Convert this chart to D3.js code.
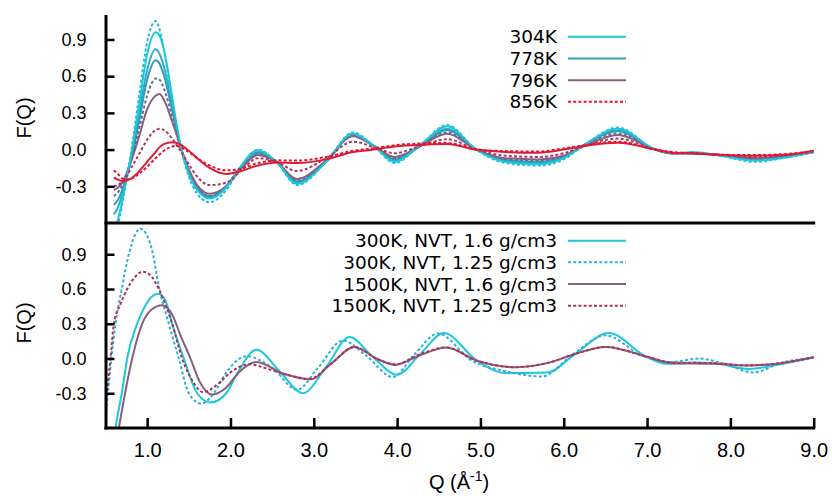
<!DOCTYPE html>
<html>
<head>
<meta charset="utf-8">
<script src="https://cdn.jsdelivr.net/npm/d3@7"></script>
<style>
  html, body { margin: 0; padding: 0; background: #fff; }
  svg { display: block; }
</style>
</head>
<body>
<svg id="chart" width="832" height="496"></svg>
<script>
// ---------------- DATA ----------------
// Top panel: shared Q grid (Å^-1)
const Q_TOP = [0.6, 0.65, 0.7, 0.75, 0.8, 0.9, 1.0, 1.1, 1.15, 1.2, 1.3, 1.35, 1.4, 1.5, 1.6, 1.75, 1.95, 2.1, 2.33, 2.55,
               2.8, 3.15, 3.47, 3.72, 3.97, 4.28, 4.6, 4.95, 5.3, 5.7, 6.0, 6.25, 6.65, 7.1, 7.3, 7.55, 7.8, 8.3, 8.7, 9.0];
const F_TOP_A = [-0.75,-0.62,-0.45,-0.25,-0.05,0.42,0.88,1.05,0.98,0.82,0.40,0.20,0.03,-0.22,-0.36,-0.43,-0.33,-0.17,0.0,-0.10,
                 -0.29,-0.10,0.14,0.03,-0.11,0.04,0.20,0.0,-0.11,-0.13,-0.08,0.04,0.18,0.0,-0.03,-0.03,-0.04,-0.10,-0.06,-0.02];
const F_304K = [-0.68,-0.57,-0.42,-0.25,-0.07,0.35,0.78,0.96,0.93,0.82,0.43,0.22,0.04,-0.20,-0.33,-0.40,-0.31,-0.16,-0.005,-0.10,
                -0.28,-0.10,0.13,0.03,-0.10,0.04,0.19,0.0,-0.10,-0.12,-0.07,0.04,0.17,0.0,-0.03,-0.02,-0.04,-0.09,-0.06,-0.02];
const F_TOP_C = [-0.53,-0.47,-0.37,-0.24,-0.10,0.27,0.65,0.82,0.78,0.68,0.36,0.19,0.03,-0.19,-0.32,-0.39,-0.30,-0.16,-0.02,-0.10,
                 -0.27,-0.10,0.13,0.03,-0.09,0.03,0.17,0.0,-0.09,-0.11,-0.06,0.04,0.16,0.0,-0.03,-0.03,-0.04,-0.085,-0.055,-0.02];
const F_778K = [-0.45,-0.41,-0.33,-0.22,-0.10,0.22,0.57,0.73,0.70,0.61,0.32,0.17,0.03,-0.18,-0.31,-0.38,-0.30,-0.16,-0.025,-0.10,
                -0.26,-0.10,0.12,0.03,-0.08,0.03,0.16,0.0,-0.085,-0.10,-0.06,0.04,0.15,0.0,-0.03,-0.03,-0.04,-0.08,-0.05,-0.02];
const F_TOP_E = [-0.38,-0.35,-0.29,-0.20,-0.10,0.16,0.44,0.58,0.57,0.50,0.27,0.15,0.03,-0.17,-0.30,-0.38,-0.30,-0.17,-0.04,-0.10,
                 -0.25,-0.09,0.12,0.03,-0.07,0.03,0.14,0.0,-0.08,-0.09,-0.05,0.04,0.13,0.0,-0.03,-0.03,-0.04,-0.075,-0.05,-0.02];
const F_796K = [-0.33,-0.31,-0.27,-0.20,-0.11,0.10,0.33,0.44,0.455,0.41,0.23,0.13,0.02,-0.16,-0.29,-0.36,-0.30,-0.18,-0.045,-0.10,
                -0.24,-0.09,0.11,0.03,-0.06,0.03,0.13,0.0,-0.07,-0.08,-0.05,0.03,0.12,0.0,-0.03,-0.03,-0.04,-0.07,-0.05,-0.02];
const F_TOP_G = [-0.30,-0.29,-0.26,-0.22,-0.16,-0.04,0.08,0.16,0.17,0.16,0.09,0.04,-0.01,-0.12,-0.22,-0.29,-0.27,-0.19,-0.07,-0.10,
                 -0.175,-0.07,0.065,0.02,-0.03,0.03,0.085,0.0,-0.05,-0.06,-0.03,0.03,0.09,0.0,-0.03,-0.03,-0.04,-0.06,-0.045,-0.015];
const F_TOP_H = [-0.23,-0.245,-0.257,-0.253,-0.24,-0.18,-0.10,-0.02,0.02,0.045,0.06,0.055,0.04,-0.01,-0.07,-0.15,-0.20,-0.18,-0.13,-0.105,
                 -0.11,-0.08,-0.02,0.0,0.025,0.04,0.045,0.0,-0.02,-0.025,0.0,0.03,0.055,0.0,-0.025,-0.03,-0.04,-0.05,-0.04,-0.01];
const F_856K = [-0.17,-0.20,-0.235,-0.245,-0.24,-0.20,-0.14,-0.07,-0.04,-0.01,0.025,0.03,0.02,-0.02,-0.07,-0.13,-0.17,-0.16,-0.11,-0.088,
                -0.09,-0.06,-0.01,0.01,0.035,0.05,0.055,0.0,-0.012,-0.016,0.01,0.035,0.065,0.0,-0.02,-0.03,-0.04,-0.045,-0.035,-0.01];

// Bottom panel: each series with its own Q points
const Q_300K_16 = [0.6,0.62,0.7,0.76,0.88,0.98,1.05,1.13,1.22,1.3,1.44,1.6,1.76,1.95,2.08,2.31,2.6,2.87,3.15,3.43,3.7,4.0,4.28,4.56,4.96,5.3,5.8,6.14,6.54,6.98,7.22,7.6,7.85,8.22,8.6,9.0];
const F_300K_16 = [-0.7,-0.6,-0.28,0.0,0.3,0.46,0.53,0.56,0.5,0.3,0.0,-0.3,-0.38,-0.3,-0.13,0.075,-0.12,-0.3,-0.07,0.185,0.02,-0.14,0.04,0.22,-0.02,-0.125,-0.12,0.04,0.22,0.02,-0.045,-0.035,-0.045,-0.09,-0.05,0.01];
const Q_300K_125 = [0.5,0.53,0.57,0.62,0.7,0.78,0.85,0.92,1.0,1.07,1.14,1.26,1.38,1.5,1.65,1.8,1.95,2.19,2.5,2.8,3.05,3.35,3.62,3.95,4.2,4.49,4.9,5.3,5.74,6.1,6.5,6.95,7.3,7.62,7.9,8.28,8.6,9.0];
const F_300K_125 = [-0.5,-0.3,0.0,0.3,0.62,0.9,1.06,1.12,1.06,0.9,0.62,0.3,0.0,-0.3,-0.39,-0.3,-0.12,0.02,-0.08,-0.27,-0.08,0.155,0.03,-0.16,0.03,0.215,-0.02,-0.11,-0.155,0.03,0.2,0.02,-0.03,0.0,-0.04,-0.12,-0.04,0.01];
const Q_1500K_16 = [0.6,0.66,0.74,0.82,0.94,1.05,1.18,1.3,1.4,1.52,1.63,1.78,1.95,2.1,2.31,2.63,2.97,3.2,3.49,3.75,3.98,4.25,4.59,4.96,5.42,5.8,6.14,6.5,6.98,7.3,7.8,8.2,8.6,9.0];
const F_1500K_16 = [-0.85,-0.6,-0.28,0.0,0.3,0.42,0.46,0.38,0.2,0.0,-0.2,-0.31,-0.25,-0.12,-0.03,-0.13,-0.18,-0.05,0.1,0.0,-0.055,0.02,0.095,-0.02,-0.075,-0.04,0.04,0.1,0.02,-0.04,-0.045,-0.06,-0.04,0.01];
const Q_1500K_125 = [0.5,0.53,0.56,0.6,0.68,0.76,0.85,0.95,1.05,1.14,1.3,1.42,1.55,1.67,1.85,2.0,2.23,2.45,2.63,2.95,3.2,3.49,3.75,3.98,4.25,4.59,4.96,5.42,5.8,6.14,6.5,6.98,7.3,7.8,8.2,8.6,9.0];
const F_1500K_125 = [-0.42,-0.2,0.0,0.3,0.47,0.6,0.7,0.75,0.71,0.6,0.3,0.0,-0.2,-0.29,-0.22,-0.12,-0.05,-0.09,-0.13,-0.175,-0.05,0.1,0.0,-0.05,0.03,0.095,-0.02,-0.075,-0.04,0.04,0.1,0.02,-0.035,-0.04,-0.06,-0.04,0.01];

const X_TICKS = [1, 2, 3, 4, 5, 6, 7, 8, 9];
const Y_TICKS = [-0.3, 0.0, 0.3, 0.6, 0.9];

const TOP_SERIES = [
  { name: "A", q: Q_TOP, f: F_TOP_A, color: "#22bcd6", dash: true },
  { name: "C", q: Q_TOP, f: F_TOP_C, color: "#2aaecb", dash: false },
  { name: "778K", q: Q_TOP, f: F_778K, color: "#3a9ab6", dash: false },
  { name: "E", q: Q_TOP, f: F_TOP_E, color: "#5a7595", dash: true },
  { name: "796K", q: Q_TOP, f: F_796K, color: "#8a6080", dash: false },
  { name: "304K", q: Q_TOP, f: F_304K, color: "#16cade", dash: false },
  { name: "G", q: Q_TOP, f: F_TOP_G, color: "#a63c64", dash: true },
  { name: "H", q: Q_TOP, f: F_TOP_H, color: "#d81e3c", dash: false },
  { name: "856K", q: Q_TOP, f: F_856K, color: "#f0102a", dash: true }
];
const TOP_LEGEND = [
  { label: "304K", color: "#16cade", dash: false },
  { label: "778K", color: "#3a9ab6", dash: false },
  { label: "796K", color: "#8a6080", dash: false },
  { label: "856K", color: "#f0102a", dash: true }
];
const BOTTOM_SERIES = [
  { label: "300K, NVT, 1.6 g/cm3", q: Q_300K_16, f: F_300K_16, color: "#1cc8dc", dash: false },
  { label: "300K, NVT, 1.25 g/cm3", q: Q_300K_125, f: F_300K_125, color: "#2fb2cf", dash: true },
  { label: "1500K, NVT, 1.6 g/cm3", q: Q_1500K_16, f: F_1500K_16, color: "#86607e", dash: false },
  { label: "1500K, NVT, 1.25 g/cm3", q: Q_1500K_125, f: F_1500K_125, color: "#b0305a", dash: true }
];

// ---------------- LAYOUT ----------------
const svg = d3.select("#chart");
const L = 105.5, R = 813.7;
const TOP_Y0 = 15, MID_Y = 223, BOT_Y1 = 428;

const x = d3.scaleLinear().domain([0.5, 9]).range([L, R]);
const yT = d3.scaleLinear().domain([-0.6, 1.1]).range([MID_Y, TOP_Y0]);
const yB = d3.scaleLinear().domain([-0.6, 1.17]).range([BOT_Y1, MID_Y]);

const defs = svg.append("defs");
defs.append("clipPath").attr("id", "clipTop").append("rect")
  .attr("x", L).attr("y", TOP_Y0 - 4).attr("width", R - L + 2).attr("height", MID_Y - TOP_Y0 + 4);
defs.append("clipPath").attr("id", "clipBot").append("rect")
  .attr("x", L).attr("y", MID_Y).attr("width", R - L + 2).attr("height", BOT_Y1 - MID_Y);

function drawSeries(g, s, yScale) {
  const pts = s.q.map((q, i) => [q, s.f[i]]);
  const line = d3.line().x(d => x(d[0])).y(d => yScale(d[1])).curve(d3.curveMonotoneX);
  g.append("path").datum(pts)
    .attr("d", line)
    .attr("fill", "none")
    .attr("stroke", s.color)
    .attr("stroke-width", 2)
    .attr("stroke-dasharray", s.dash ? "3,2.2" : null);
}

const gTop = svg.append("g").attr("clip-path", "url(#clipTop)");
TOP_SERIES.forEach(s => drawSeries(gTop, s, yT));
const gBot = svg.append("g").attr("clip-path", "url(#clipBot)");
BOTTOM_SERIES.forEach(s => drawSeries(gBot, s, yB));

// axes
const fmt = d => d.toFixed(1);
function yAxis(scale) {
  return d3.axisLeft(scale).tickValues(Y_TICKS).tickFormat(fmt)
    .tickSizeInner(-9).tickSizeOuter(0).tickPadding(19);
}
const axT = svg.append("g").attr("transform", `translate(${L},0)`).call(yAxis(yT));
const axB = svg.append("g").attr("transform", `translate(${L},0)`).call(yAxis(yB));
[axT, axB].forEach(a => {
  a.select(".domain").remove();
  a.selectAll(".tick line").attr("stroke", "#000").attr("stroke-width", 2.5);
  a.selectAll(".tick text").attr("font-family", "'Liberation Sans', Arial, sans-serif")
    .attr("font-size", 18).attr("fill", "#000");
});

const axX = svg.append("g").attr("transform", `translate(0,${BOT_Y1})`)
  .call(d3.axisBottom(x).tickValues(X_TICKS).tickFormat(fmt).tickSizeInner(-10).tickSizeOuter(0).tickPadding(15));
axX.select(".domain").remove();
axX.selectAll(".tick line").attr("stroke", "#000").attr("stroke-width", 2.5);
axX.selectAll(".tick text").attr("font-family", "'Liberation Sans', Arial, sans-serif")
  .attr("font-size", 20).attr("fill", "#000");

// frame lines
const frame = svg.append("g").attr("stroke", "#000").attr("stroke-width", 3).attr("fill", "none");
frame.append("line").attr("x1", L + 0.5).attr("x2", L + 0.5).attr("y1", TOP_Y0).attr("y2", BOT_Y1 + 1.5);
frame.append("line").attr("x1", L - 1).attr("x2", R + 1.5).attr("y1", MID_Y).attr("y2", MID_Y);
frame.append("line").attr("x1", L - 1).attr("x2", R + 1.5).attr("y1", BOT_Y1).attr("y2", BOT_Y1);

// y labels
function yLabel(cy) {
  svg.append("text")
    .attr("transform", `translate(24,${cy}) rotate(-90)`)
    .attr("text-anchor", "middle").attr("dy", "0.35em")
    .attr("font-family", "'Liberation Sans', Arial, sans-serif").attr("font-size", 20)
    .text("F(Q)");
}
yLabel(118);
yLabel(323);

// x label
const xl = svg.append("text").attr("x", 459).attr("y", 489).attr("text-anchor", "middle")
  .attr("font-family", "'Liberation Sans', Arial, sans-serif").attr("font-size", 20);
xl.append("tspan").text("Q (Å");
xl.append("tspan").attr("font-size", 14).attr("dy", -8).text("-1");
xl.append("tspan").attr("dy", 8).text(")");

// legends
function legend(items, ys) {
  items.forEach((it, i) => {
    const yy = ys[i];
    svg.append("text").attr("x", 557).attr("y", yy).attr("dy", "0.36em")
      .attr("text-anchor", "end")
      .attr("font-family", "'DejaVu Sans', sans-serif").attr("font-size", 18.5)
      .attr("fill", "#000").text(it.label);
    svg.append("line").attr("x1", 568).attr("x2", 626).attr("y1", yy).attr("y2", yy)
      .attr("stroke", it.color).attr("stroke-width", 2)
      .attr("stroke-dasharray", it.dash ? "3,2.2" : null);
  });
}
legend(TOP_LEGEND, [36.7, 58.5, 80.2, 101.8]);
legend(BOTTOM_SERIES, [240.7, 262.3, 284, 305.7]);
</script>
</body>
</html>
